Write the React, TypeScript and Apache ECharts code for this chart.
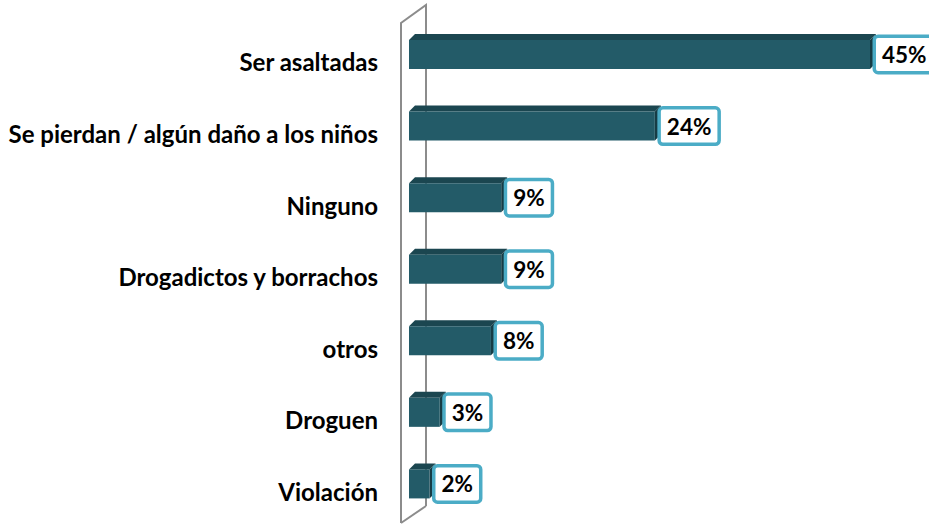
import React, { useEffect, useRef } from "react";
import * as echarts from "echarts";

const categories = [
  "Ser asaltadas",
  "Se pierdan / algún daño a los niños",
  "Ninguno",
  "Drogadictos y borrachos",
  "otros",
  "Droguen",
  "Violación",
];
const values = [45, 24, 9, 9, 8, 3, 2];
const valueLabels = ["45%", "24%", "9%", "9%", "8%", "3%", "2%"];

const FRONT = "#235B68";
const TOP = "#1B4650";
const SIDE = "#163C45";
const BOX_BORDER = "#4BACC6";
const WALL = "#8C8C8C";

export default function App() {
  const ref = useRef<HTMLDivElement>(null);
  useEffect(() => {
    if (!ref.current) return;
    const chart = echarts.init(ref.current, null, { renderer: "svg" });
    const data = values.map((v, i) => [v, i]);
    chart.setOption({
      animation: false,
      grid: { left: 409, right: 59, top: 18.7, height: 501, containLabel: false },
      xAxis: {
        type: "value",
        min: 0,
        max: 45,
        show: false,
      },
      yAxis: {
        type: "category",
        data: categories,
        inverse: true,
        axisLine: { show: false },
        axisTick: { show: false },
        splitLine: { show: false },
        axisLabel: {
          margin: 31,
          fontFamily: "Lato",
          fontWeight: "bold",
          fontSize: 24,
          color: "#000",
          verticalAlign: "top",
          lineHeight: 15,
        },
      },
      graphic: [
        {
          type: "polyline",
          z: 0,
          shape: { points: [[401, 523], [401, 23], [426, 5], [426, 506]] },
          style: { stroke: WALL, lineWidth: 2, fill: "none" },
        },
        {
          type: "line",
          z: 0,
          shape: { x1: 401, y1: 523, x2: 426, y2: 506 },
          style: { stroke: WALL, lineWidth: 2 },
        },
      ],
      series: [
        {
          type: "custom",
          z: 5,
          data,
          encode: { x: 0, y: 1 },
          renderItem: (params: any, api: any) => {
            const v = api.value(0);
            const idx = api.value(1);
            const start = api.coord([0, idx]);
            const end = api.coord([v, idx]);
            const h = 29;
            const dx = 6;
            const dy = 6;
            const x0 = start[0];
            const x1 = end[0];
            const y0 = start[1] - h / 2;
            return {
              type: "group",
              children: [
                {
                  type: "polygon",
                  shape: { points: [[x0, y0], [x0 + dx, y0 - dy], [x1 + dx, y0 - dy], [x1, y0]] },
                  style: { fill: TOP },
                },
                {
                  type: "polygon",
                  shape: { points: [[x1, y0], [x1 + dx, y0 - dy], [x1 + dx, y0 + h - dy], [x1, y0 + h]] },
                  style: { fill: SIDE },
                },
                {
                  type: "rect",
                  shape: { x: x0, y: y0, width: x1 - x0, height: h },
                  style: { fill: FRONT },
                },
                {
                  type: "text",
                  x: x1 + 6,
                  y: start[1],
                  style: {
                    text: valueLabels[params.dataIndex],
                    font: "bold 22.5px Lato",
                    fill: "#000",
                    align: "left",
                    verticalAlign: "middle",
                    backgroundColor: "#fff",
                    borderColor: BOX_BORDER,
                    borderWidth: 3.5,
                    borderRadius: 2,
                    padding: [5, 6, 5, 6],
                    lineHeight: 23,
                  },
                },
              ],
            };
          },
        },
      ],
    });
    return () => chart.dispose();
  }, []);
  return (
    <div
      ref={ref}
      style={{ position: "fixed", left: 0, top: 0, width: 929, height: 525, background: "#fff" }}
    />
  );
}
